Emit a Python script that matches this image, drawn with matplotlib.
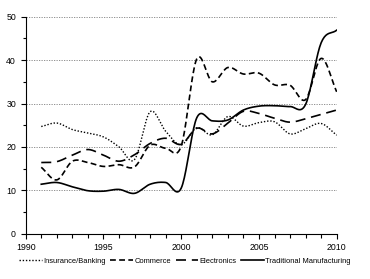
import numpy as np
import matplotlib
matplotlib.use("Agg")
import matplotlib.pyplot as plt
from matplotlib.ticker import MultipleLocator

years = list(range(1991, 2011))
insurance = [24.7, 25.5, 24.0, 23.2, 22.3, 20.0, 17.1, 28.1, 23.6, 20.5,
             24.4, 22.8, 27.0, 24.8, 25.6, 25.8, 23.0, 24.2, 25.4, 22.7]
commerce = [15.3, 12.4, 16.7, 16.4, 15.5, 15.9, 15.4, 20.4, 19.7, 20.2,
            40.3, 35.0, 38.3, 36.8, 37.0, 34.3, 34.2, 30.9, 40.4, 32.7]
electronics = [16.4, 16.6, 18.1, 19.4, 18.1, 16.7, 18.2, 20.8, 22.0, 20.6,
               24.3, 23.0, 25.5, 28.2, 27.7, 26.6, 25.7, 26.5, 27.5, 28.5]
manufacturing = [11.4, 11.8, 10.8, 9.9, 9.8, 10.2, 9.3, 11.4, 11.8, 10.5,
                 26.7, 26.0, 26.2, 28.5, 29.4, 29.5, 29.3, 29.8, 44.0, 46.9]


# smoothed line like a spreadsheet chart (catmull-rom through the points)
def smooth(xs, ys, n=20):
    x = np.asarray(xs, float)
    y = np.asarray(ys, float)
    px = np.concatenate([[2 * x[0] - x[1]], x, [2 * x[-1] - x[-2]]])
    py = np.concatenate([[2 * y[0] - y[1]], y, [2 * y[-1] - y[-2]]])
    out_x, out_y = [], []
    t = np.linspace(0, 1, n, endpoint=False)
    for i in range(1, len(px) - 2):
        for p, out in ((px, out_x), (py, out_y)):
            p0, p1, p2, p3 = p[i - 1], p[i], p[i + 1], p[i + 2]
            out.extend(0.5 * ((2 * p1) + (-p0 + p2) * t
                              + (2 * p0 - 5 * p1 + 4 * p2 - p3) * t ** 2
                              + (-p0 + 3 * p1 - 3 * p2 + p3) * t ** 3))
    out_x.append(x[-1])
    out_y.append(y[-1])
    return out_x, out_y


plt.rcParams["font.family"] = ["Liberation Sans", "DejaVu Sans"]

fig = plt.figure(figsize=(3.7, 2.79), dpi=100)
ax = fig.add_axes([0.0695, 0.1624, 0.8405, 0.7776])

ax.plot(*smooth(years, insurance), color="black", lw=1.0,
        dashes=(1, 1.3), label="Insurance/Banking")
ax.plot(*smooth(years, commerce), color="black", lw=1.2,
        dashes=(3.5, 2), label="Commerce")
ax.plot(*smooth(years, electronics), color="black", lw=1.2,
        dashes=(6, 3.5), label="Electronics")
ax.plot(*smooth(years, manufacturing), color="black", lw=1.2,
        label="Traditional Manufacturing")

ax.set_xlim(1990, 2010)
ax.set_ylim(0, 50)
ax.xaxis.set_major_locator(MultipleLocator(5))
ax.xaxis.set_minor_locator(MultipleLocator(1))
ax.yaxis.set_major_locator(MultipleLocator(10))
ax.yaxis.set_minor_locator(MultipleLocator(5))
ax.tick_params(which="both", direction="out", labelsize=6.3, width=0.8)
ax.tick_params(which="major", length=3.5)
ax.tick_params(which="minor", length=2.5)
ax.tick_params(axis="x", which="minor", length=3)
ax.grid(axis="y", color="gray", linestyle=(0, (1.5, 1.5)), linewidth=0.6)
ax.spines["top"].set_visible(False)
ax.spines["right"].set_visible(False)
ax.set_axisbelow(True)

fig.legend(loc="center", bbox_to_anchor=(0.5, 0.064), ncol=4, frameon=False,
           fontsize=5.4, handlelength=3, handletextpad=0.2,
           columnspacing=0.6)

fig.savefig("out.png", dpi=100)
